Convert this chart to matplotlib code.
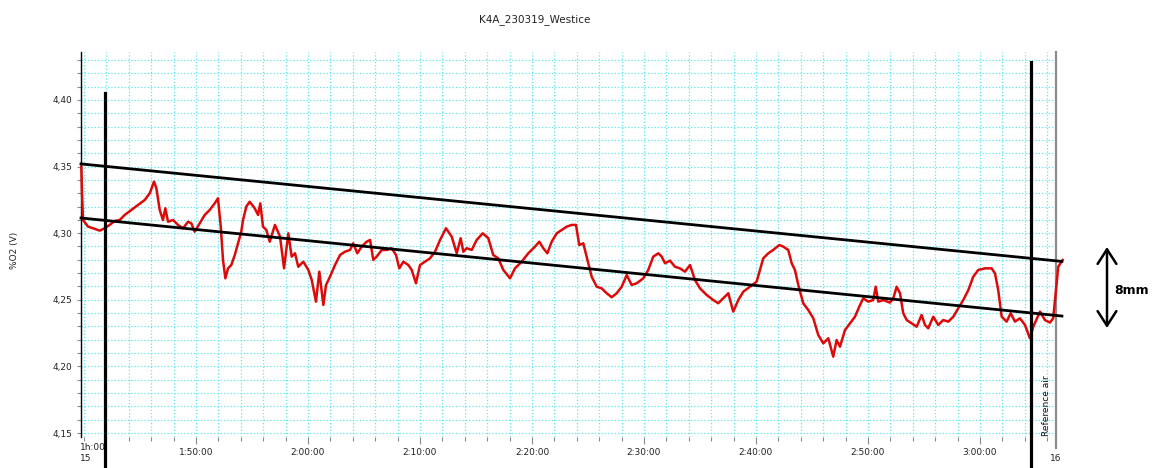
import numpy as np
import matplotlib
matplotlib.use('Agg')
import matplotlib.pyplot as plt
from matplotlib.ticker import MultipleLocator, FixedLocator, FuncFormatter

# time in minutes after 1:40:00, value in %O2 (V)
t_min = [
    -0.24, -0.18, -0.09, 0.36, 0.80, 1.40, 1.85, 2.29, 2.74, 3.19, 3.63, 4.22, 4.82, 5.42, 5.87,
    6.25, 6.46, 6.76, 7.05, 7.26, 7.50, 7.95, 8.39, 8.84, 9.29, 9.58, 9.88, 10.33, 10.78, 11.22,
    11.67, 11.96, 12.21, 12.41, 12.62, 12.86, 13.15, 13.46, 13.75, 14.04, 14.20, 14.49, 14.79, 15.24,
    15.54, 15.74, 15.98, 16.28, 16.58, 17.05, 17.50, 17.86, 18.24, 18.54, 18.84, 19.13, 19.58, 20.03,
    20.33, 20.71, 21.01, 21.37, 21.61, 21.96, 22.41, 22.86, 23.30, 23.75, 24.04, 24.40, 24.79, 25.24,
    25.54, 25.83, 26.13, 26.58, 27.03, 27.47, 27.86, 28.15, 28.51, 28.96, 29.26, 29.64, 30.00, 30.45,
    30.89, 31.34, 31.79, 32.32, 32.83, 33.28, 33.63, 33.87, 34.17, 34.62, 35.06, 35.60, 36.10, 36.54,
    36.99, 37.44, 38.04, 38.48, 39.08, 39.67, 40.27, 40.65, 41.01, 41.37, 41.76, 42.21, 42.65, 43.10,
    43.54, 43.93, 44.22, 44.58, 44.88, 45.33, 45.78, 46.22, 46.67, 47.12, 47.56, 48.01, 48.46, 48.90,
    49.35, 49.94, 50.38, 50.83, 51.28, 51.58, 51.88, 52.32, 52.77, 53.21, 53.66, 54.11, 54.55, 55.00,
    55.60, 56.19, 56.63, 57.08, 57.53, 57.97, 58.42, 58.87, 59.46, 60.06, 60.36, 60.65, 61.10, 61.54,
    62.08, 62.44, 62.88, 63.19, 63.48, 63.78, 64.22, 64.67, 65.12, 65.56, 66.01, 66.46, 66.90, 67.20,
    67.50, 67.95, 68.39, 68.84, 69.29, 69.58, 70.03, 70.47, 70.69, 70.92, 71.37, 71.96, 72.26, 72.56,
    72.86, 73.15, 73.46, 73.90, 74.35, 74.79, 75.09, 75.38, 75.83, 76.28, 76.72, 77.17, 77.62, 78.06,
    78.51, 78.96, 79.40, 79.85, 80.45, 81.04, 81.34, 81.63, 81.94, 82.38, 82.74, 83.13, 83.57, 84.02,
    84.46, 84.76, 85.36, 85.80, 86.25, 86.54, 86.79, 86.99, 87.38,
]
o2 = [
    4.3499, 4.3302, 4.3099, 4.3049, 4.3037, 4.3019, 4.3037, 4.3062, 4.3092, 4.3099, 4.3137, 4.3174, 4.3212, 4.3249, 4.3300,
    4.3387, 4.3337, 4.3174, 4.3099, 4.3187, 4.3086, 4.3099, 4.3062, 4.3037, 4.3086, 4.3074, 4.3011, 4.3074, 4.3137, 4.3174,
    4.3224, 4.3262, 4.3049, 4.2799, 4.2661, 4.2736, 4.2761, 4.2836, 4.2924, 4.3011, 4.3099, 4.3199, 4.3236, 4.3187,
    4.3137, 4.3224, 4.3049, 4.3024, 4.2936, 4.3062, 4.2974, 4.2736, 4.2999, 4.2824, 4.2849, 4.2748, 4.2786, 4.2724,
    4.2649, 4.2486, 4.2711, 4.2461, 4.2611, 4.2673, 4.2761, 4.2836, 4.2861, 4.2874, 4.2924, 4.2849, 4.2899, 4.2936,
    4.2949, 4.2799, 4.2824, 4.2874, 4.2874, 4.2887, 4.2836, 4.2736, 4.2786, 4.2761, 4.2724, 4.2624, 4.2761, 4.2786,
    4.2811, 4.2861, 4.2949, 4.3037, 4.2974, 4.2849, 4.2962, 4.2861, 4.2887, 4.2874, 4.2949, 4.2999, 4.2962, 4.2836,
    4.2811, 4.2724, 4.2661, 4.2736, 4.2786, 4.2849, 4.2899, 4.2936, 4.2887, 4.2849, 4.2936, 4.2999, 4.3024, 4.3049,
    4.3062, 4.3062, 4.2911, 4.2924, 4.2824, 4.2673, 4.2598, 4.2586, 4.2549, 4.2519, 4.2549, 4.2598, 4.2686, 4.2611,
    4.2624, 4.2661, 4.2724, 4.2824, 4.2849, 4.2824, 4.2774, 4.2794, 4.2748, 4.2736, 4.2711, 4.2761, 4.2649, 4.2586,
    4.2536, 4.2498, 4.2474, 4.2511, 4.2549, 4.2411, 4.2498, 4.2561, 4.2598, 4.2636, 4.2724, 4.2811, 4.2849, 4.2874,
    4.2911, 4.2899, 4.2874, 4.2774, 4.2724, 4.2611, 4.2474, 4.2423, 4.2361, 4.2236, 4.2173, 4.2211, 4.2073, 4.2198,
    4.2148, 4.2273, 4.2323, 4.2373, 4.2461, 4.2511, 4.2486, 4.2498, 4.2598, 4.2486, 4.2498, 4.2479, 4.2511, 4.2598,
    4.2549, 4.2399, 4.2348, 4.2323, 4.2298, 4.2386, 4.2311, 4.2286, 4.2373, 4.2311, 4.2348, 4.2336, 4.2373, 4.2436,
    4.2498, 4.2573, 4.2673, 4.2724, 4.2736, 4.2736, 4.2699, 4.2573, 4.2373, 4.2336, 4.2399, 4.2336, 4.2361, 4.2311,
    4.2211, 4.2298, 4.2411, 4.2348, 4.2329, 4.2361, 4.2573, 4.2748, 4.2799,
]

# drift band drawn by hand on the original
band_t = [-0.27, 87.32]
band_upper = [4.3520, 4.2788]
band_lower = [4.3114, 4.2378]

# markers: start of measurement, start of reference air
marker_t = [1.875, 84.55]
marker_top = [4.4053, 4.4285]

x_major = [10, 20, 30, 40, 50, 60, 70, 80]
x_labels = ['1:50:00', '2:00:00', '2:10:00', '2:20:00', '2:30:00', '2:40:00', '2:50:00', '3:00:00']
t_end = 86.79

fig = plt.figure(figsize=(11.52, 4.68), dpi=100)
ax = fig.add_axes([81 / 1152, 31 / 468, (1056 - 81) / 1152, 385 / 468])

ax.set_xlim(-0.27, t_end)
ax.set_ylim(4.147, 4.436)

grid_col = '#5ee8f2'
ax.xaxis.set_major_locator(FixedLocator(x_major))
ax.xaxis.set_minor_locator(MultipleLocator(2))
ax.set_xticklabels(x_labels)
ax.yaxis.set_major_locator(MultipleLocator(0.05))
ax.yaxis.set_minor_locator(MultipleLocator(0.01))
ax.yaxis.set_major_formatter(FuncFormatter(lambda v, p: ('%.2f' % v).replace('.', ',')))
ax.grid(which='both', color=grid_col, linestyle=':', linewidth=0.9)
ax.set_axisbelow(True)

ax.tick_params(axis='both', which='both', direction='out', color='#8a8a8a', width=0.8,
               labelsize=6.5, labelcolor='#222222')
ax.tick_params(axis='x', which='major', length=5, pad=3)
ax.tick_params(axis='x', which='minor', length=3)
ax.tick_params(axis='y', which='both', length=3, pad=3)

for side in ['top', 'bottom', 'right']:
    ax.spines[side].set_visible(False)
ax.spines['left'].set_color('black')
ax.spines['left'].set_linewidth(1.0)

# grey end-of-record line, runs a little below the axis
ax.plot([t_end, t_end], [4.436, 4.139], color='#8c8c8c', linewidth=1.6, clip_on=False, zorder=2)

ax.plot(t_min, o2, color='#dd0a0a', linewidth=1.8, clip_on=False, zorder=3)

ax.plot(band_t, band_upper, color='black', linewidth=2.0, clip_on=False, zorder=4)
ax.plot(band_t, band_lower, color='black', linewidth=2.0, clip_on=False, zorder=4)

for mt, top in zip(marker_t, marker_top):
    ax.plot([mt, mt], [top, 4.1237], color='black', linewidth=2.3, clip_on=False, zorder=4)

ax.text(85.98, 4.148, 'Reference air', rotation=90, ha='center', va='bottom', fontsize=6.5, color='#111111')

xt = ax.get_xaxis_transform()
ax.text(-0.35, -0.028, '1h:00', transform=xt, ha='left', va='center', fontsize=6.5, color='#222222')
ax.text(-0.35, -0.055, '15', transform=xt, ha='left', va='center', fontsize=6.5, color='#222222')
ax.text(t_end, -0.055, '16', transform=xt, ha='center', va='center', fontsize=6.5, color='#222222')

fig.text(535 / 1152, 1 - 20 / 468, 'K4A_230319_Westice', ha='center', va='center', fontsize=7.5, color='#222222')
fig.text(15 / 1152, 1 - 250 / 468, '%O2 (V)', rotation=90, ha='center', va='center', fontsize=6.5, color='#222222')

ax.annotate('', xy=(1107 / 1152, 1 - 247 / 468), xytext=(1107 / 1152, 1 - 328 / 468),
            xycoords='figure fraction', textcoords='figure fraction',
            arrowprops=dict(arrowstyle='<->,head_length=0.7,head_width=0.45', mutation_scale=15,
                            lw=1.8, color='black', shrinkA=0, shrinkB=0))
fig.text(1132 / 1152, 1 - 290 / 468, '8mm', ha='center', va='center', fontsize=9, fontweight='bold')

fig.savefig('out.png', dpi=100)
